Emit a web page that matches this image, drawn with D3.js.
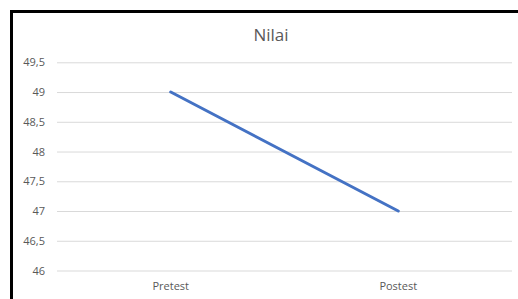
<!DOCTYPE html>
<html>
<head>
<meta charset="utf-8">
<script src="https://cdn.jsdelivr.net/npm/d3@7"></script>
<style>
  html, body { margin: 0; padding: 0; background: #fff; overflow: hidden; }
  svg { display: block; }
</style>
</head>
<body>
<svg id="chart" width="518" height="299"></svg>
<script>
const categories = ["Pretest", "Postest"];
const values = [49, 47];
const yTicks = [46, 46.5, 47, 47.5, 48, 48.5, 49, 49.5];
const title = "Nilai";

const svg = d3.select("#chart");
const W = 518, H = 299;
const plot = { left: 57, right: 512, top: 62.3, bottom: 270.5 };

svg.append("rect").attr("width", W).attr("height", H).attr("fill", "#fff");

const x = d3.scaleBand().domain(categories).range([plot.left, plot.right]).padding(0);
const y = d3.scaleLinear().domain([46, 49.5]).range([plot.bottom, plot.top]);

const fmt = v => String(v).replace(".", ",");

// gridlines
const yAxis = d3.axisLeft(y).tickValues(yTicks).tickFormat(fmt)
  .tickSize(-(plot.right - plot.left)).tickPadding(12);
const gy = svg.append("g").attr("transform", `translate(${plot.left},0)`).call(yAxis);
gy.select(".domain").remove();
gy.selectAll(".tick line").attr("stroke", "#d9d9d9").attr("stroke-width", 1);
gy.selectAll(".tick text")
  .attr("fill", "#595959")
  .style("font-family", "'Open Sans', sans-serif")
  .style("font-size", "11px");

// x axis labels
const xAxis = d3.axisBottom(x).tickSize(0).tickPadding(12);
const gx = svg.append("g").attr("transform", `translate(0,${plot.bottom})`).call(xAxis);
gx.select(".domain").remove();
gx.selectAll(".tick text")
  .attr("fill", "#595959")
  .style("font-family", "'Open Sans', sans-serif")
  .style("font-size", "11px");

// line
const line = d3.line()
  .x((d, i) => x(categories[i]) + x.bandwidth() / 2)
  .y(d => y(d));
svg.append("path")
  .datum(values)
  .attr("d", line)
  .attr("fill", "none")
  .attr("stroke", "#4472C4")
  .attr("stroke-width", 3)
  .attr("stroke-linecap", "round");

// title
svg.append("text")
  .attr("x", 271)
  .attr("y", 40.7)
  .attr("text-anchor", "middle")
  .attr("fill", "#595959")
  .style("font-family", "'Open Sans', sans-serif")
  .style("font-size", "17px")
  .text(title);

// chart border (cropped)
svg.append("rect")
  .attr("x", 11.5).attr("y", 11.5)
  .attr("width", 700).attr("height", 500)
  .attr("fill", "none")
  .attr("stroke", "#000")
  .attr("stroke-width", 3);
</script>
</body>
</html>
